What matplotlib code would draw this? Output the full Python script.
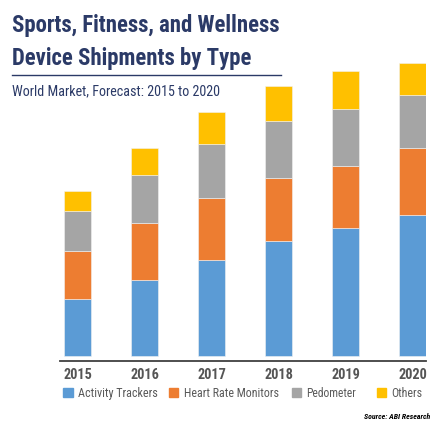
import matplotlib
matplotlib.use("Agg")
import matplotlib.pyplot as plt
import numpy as np
from matplotlib import font_manager
from matplotlib.patches import Rectangle
from matplotlib.lines import Line2D

years = ["2015", "2016", "2017", "2018", "2019", "2020"]
series = ["Activity Trackers", "Heart Rate Monitors", "Pedometer", "Others"]
activity = [56.7, 76.0, 95.7, 114.4, 127.4, 140.4]
heart_rate = [47.7, 56.4, 62.0, 63.3, 62.0, 67.0]
pedometer = [40.0, 48.3, 54.0, 57.0, 57.3, 53.0]
others = [20.6, 26.7, 32.0, 35.3, 37.7, 32.3]
colors = ["#5B9BD5", "#ED7D31", "#A5A5A5", "#FFC000"]

names = {f.name for f in font_manager.fontManager.ttflist}
narrow = "DejaVu Sans"
for cand in ["Liberation Sans Narrow", "Roboto Condensed", "Open Sans Condensed",
             "DejaVu Sans Condensed", "Noto Sans Condensed"]:
    if cand in names:
        narrow = cand
        break

W, H = 445, 435
fig = plt.figure(figsize=(W / 100, H / 100), dpi=100)
renderer = fig.canvas.get_renderer()


def fit(t, width_px):
    # shrink/grow the font so the text spans the width seen in the reference
    w = t.get_window_extent(renderer).width
    t.set_fontsize(t.get_fontsize() * width_px / w)
    return t


# axes placed in pixel terms: x 60..426, y bottom 361.7 .. top 60
ax = fig.add_axes([60 / W, (H - 361.7) / H, 366 / W, 301.7 / H])
x = np.arange(len(years))
bottom = np.zeros(len(years))
for vals, c in zip([activity, heart_rate, pedometer, others], colors):
    ax.bar(x, vals, bottom=bottom, width=0.40, color=c, edgecolor="#f2f2f2", linewidth=0.4)
    bottom += np.array(vals)

ax.set_xlim(-0.264, 5.2)
ax.set_ylim(-5, 296.7)
for s in ["top", "right", "left"]:
    ax.spines[s].set_visible(False)
ax.spines["bottom"].set_color("#404040")
ax.spines["bottom"].set_linewidth(1.3)
ax.set_yticks([])
ax.set_xticks(x)
ax.tick_params(axis="x", length=0)
ax.set_xticklabels([])
offset = matplotlib.transforms.ScaledTranslation(0, -13 / 100, fig.dpi_scale_trans)
for xi, yr in zip(x, years):
    t = ax.text(xi, 0, yr, transform=ax.get_xaxis_transform() + offset, fontfamily=narrow,
                fontweight="bold", fontsize=10, color="#555555", ha="center", va="center")
    fit(t, 29)

# title block
navy = "#2B3A67"
t1 = fig.text(12 / W, 1 - 25.5 / H, "Sports, Fitness, and Wellness", fontfamily=narrow,
              fontweight="bold", fontsize=17, color=navy, va="center", ha="left")
fit(t1, 268)
t2 = fig.text(12 / W, 1 - 58 / H, "Device Shipments by Type", fontfamily=narrow,
              fontweight="bold", fontsize=17, color=navy, va="center", ha="left")
t2.set_fontsize(t1.get_fontsize())
fig.add_artist(Line2D([12 / W, 281 / W], [1 - 76 / H, 1 - 76 / H], color=navy, linewidth=1))
t3 = fig.text(12 / W, 1 - 91.5 / H, "World Market, Forecast: 2015 to 2020", fontfamily=narrow,
              fontsize=11.5, color=navy, va="center", ha="left")
fit(t3, 210)

# legend
sq_x = [63.3, 169, 292, 377]
txt_w = [80, 95, 50, 31]
for name, c, sx, tw in zip(series, colors, sq_x, txt_w):
    fig.add_artist(Rectangle((sx / W, 1 - 398 / H), 9.2 / W, 9.2 / H, color=c,
                             transform=fig.transFigure))
    lt = fig.text((sx + 14.5) / W, 1 - 393.5 / H, name, fontfamily=narrow, fontsize=8.5,
                  color="#595959", va="center", ha="left")
    fit(lt, tw)

st = fig.text(430 / W, 1 - 416.5 / H, "Source: ABI Research", fontfamily=narrow,
              fontweight="bold", fontstyle="italic", fontsize=5.5, color="black",
              va="center", ha="right")
fit(st, 66)

fig.savefig("out.png", dpi=100)
